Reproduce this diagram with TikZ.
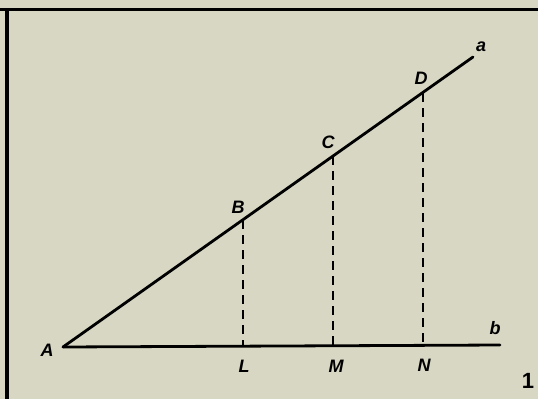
\documentclass[tikz,border=0pt]{standalone}
\usepackage{fontspec}
\setmainfont{Liberation Sans}
\begin{document}
\begin{tikzpicture}[x=1pt,y=-1pt,
  lbl/.style={font=\fontsize{18}{18}\selectfont\bfseries\itshape, inner sep=0pt},
  mainline/.style={line width=2.8pt, line cap=round},
  proj/.style={line width=2.5pt, dash pattern=on 9pt off 6pt}]
\definecolor{paper}{RGB}{216,215,196}
\fill[paper] (0,0) rectangle (538,399);
\useasboundingbox (0,0) rectangle (538,399);
% frame
\draw[line width=3pt] (0,9) -- (538,9);
\draw[line width=3.5pt] (7,9) -- (7,399);
% points
\coordinate (A) at (63,347);
\coordinate (a) at (473,57);
\coordinate (bend) at (500,345);
\coordinate (B) at (243,220);
\coordinate (C) at (333,156);
\coordinate (D) at (423,93);
\coordinate (L) at (243,346);
\coordinate (M) at (333,346);
\coordinate (N) at (423,345);
\draw[mainline] (A) -- (a);
\draw[mainline] (A) -- (bend);
\draw[proj] (B) -- (L);
\draw[proj] (C) -- (M);
\draw[proj] (D) -- (N);
% labels
\node[lbl] (lA) at (47,350) {A};
\node[lbl] (la) at (481,47) {a};
\node[lbl] (lb) at (495,328) {b};
\node[lbl] (lB) at (238,207) {B};
\node[lbl] (lC) at (328,142) {C};
\node[lbl] (lD) at (421,78) {D};
\node[lbl] (lL) at (244,366) {L};
\node[lbl] (lM) at (336,366) {M};
\node[lbl] (lN) at (424,365) {N};
\node[font=\fontsize{22}{22}\selectfont\bfseries, inner sep=0pt] (one) at (528,381) {1};
\end{tikzpicture}
\end{document}
